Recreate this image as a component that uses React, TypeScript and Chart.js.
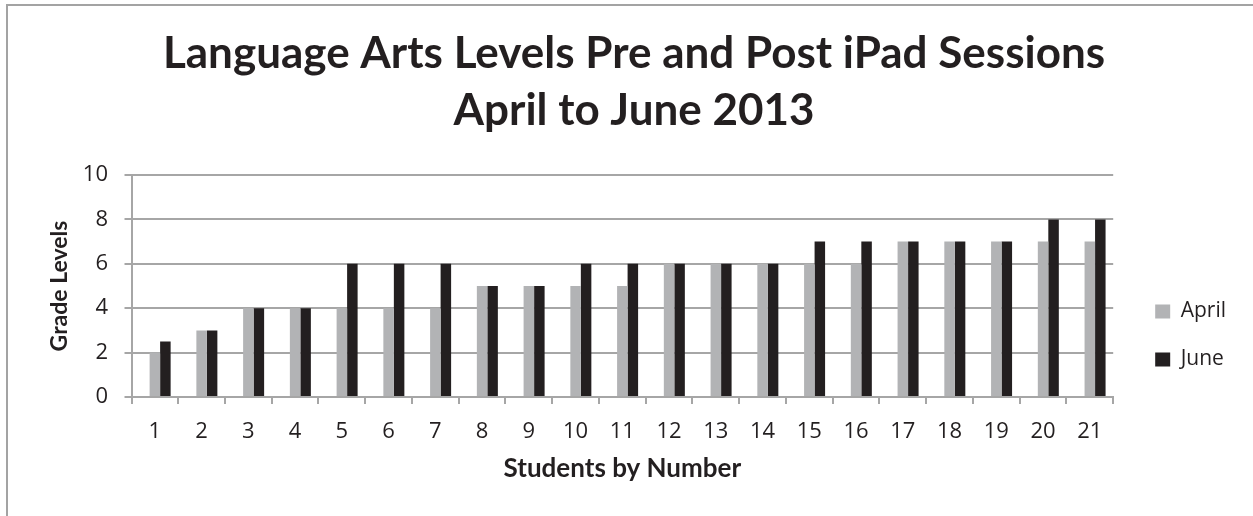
import React, { useEffect, useRef } from 'react';
import { Chart, registerables } from 'chart.js';

Chart.register(...registerables);

const titleLines = ['Language Arts Levels Pre and Post iPad Sessions', 'April to June 2013'];
const students = ['1', '2', '3', '4', '5', '6', '7', '8', '9', '10', '11', '12', '13', '14', '15', '16', '17', '18', '19', '20', '21'];
const aprilLevels = [2, 3, 4, 4, 4, 4, 4, 5, 5, 5, 5, 6, 6, 6, 6, 6, 7, 7, 7, 7, 7];
const juneLevels = [2.5, 3, 4, 4, 6, 6, 6, 5, 5, 6, 6, 6, 6, 6, 7, 7, 7, 7, 7, 8, 8];
const blankSeries: number[] = [];
const yTicks = { min: 0, max: 10, step: 2 };

const INK = '#231f20';
const APRIL_COLOR = '#b2b3b5';
const JUNE_COLOR = '#231f20';
const GRID = '#a6a6a6';
const BOLD_FAMILY = "Lato, 'Open Sans', sans-serif";
const TEXT_FAMILY = "'Open Sans', 'Noto Sans', sans-serif";

export default function App() {
  const canvasRef = useRef<HTMLCanvasElement | null>(null);

  useEffect(() => {
    const canvas = canvasRef.current;
    if (!canvas) return;
    const chart = new Chart(canvas, {
      type: 'bar',
      data: {
        labels: students,
        datasets: [
          { label: '', data: blankSeries, backgroundColor: 'rgba(0,0,0,0)' },
          { label: 'April', data: aprilLevels, backgroundColor: APRIL_COLOR, borderWidth: 0 },
          { label: 'June', data: juneLevels, backgroundColor: JUNE_COLOR, borderWidth: 0 },
        ],
      },
      options: {
        responsive: false,
        animation: false,
        datasets: { bar: { categoryPercentage: 0.674, barPercentage: 1 } },
        layout: { padding: { left: 32, right: 17, top: 0, bottom: 0 } },
        plugins: {
          tooltip: { enabled: false },
          title: {
            display: true,
            text: titleLines,
            color: INK,
            font: { family: BOLD_FAMILY, size: 44, weight: 'bold', lineHeight: 57 / 44 },
            padding: { top: 25, bottom: 36 },
          },
          legend: {
            position: 'right',
            align: 'end',
            fullSize: false,
            labels: {
              boxWidth: 15,
              boxHeight: 14,
              padding: 27,
              color: INK,
              font: { family: TEXT_FAMILY, size: 21 },
              filter: (item: any) => item.datasetIndex !== 0,
            },
          },
        },
        scales: {
          x: {
            grid: { drawOnChartArea: false, drawTicks: true, tickLength: 7, color: GRID, lineWidth: 2, offset: true },
            border: { color: GRID, width: 2 },
            ticks: { color: INK, font: { family: TEXT_FAMILY, size: 22 }, padding: 15, maxRotation: 0, autoSkip: false },
            title: {
              display: true,
              text: 'Students by Number',
              color: INK,
              font: { family: BOLD_FAMILY, size: 26, weight: 'bold' },
              padding: { top: 0, bottom: 32 },
            },
            afterFit: (s: any) => { s.height = 119; },
          },
          y: {
            min: yTicks.min,
            max: yTicks.max,
            ticks: { stepSize: yTicks.step, color: INK, font: { family: TEXT_FAMILY, size: 22 }, padding: 16.5 },
            grid: { color: GRID, lineWidth: 2, tickLength: 7 },
            border: { color: GRID, width: 2 },
            title: {
              display: true,
              text: 'Grade Levels',
              color: INK,
              font: { family: BOLD_FAMILY, size: 23, weight: 'bold' },
              padding: { top: 14, bottom: 0 },
            },
            afterFit: (s: any) => { s.width = 99.5; },
          },
          gap: {
            type: 'linear',
            position: 'right',
            display: true,
            grid: { display: false },
            border: { display: false },
            ticks: { display: false },
            afterFit: (s: any) => { s.width = 15; },
          },
        },
      } as any,
    });
    return () => chart.destroy();
  }, []);

  return (
    <div style={{ position: 'fixed', left: 0, top: 0, width: 1253, height: 516, background: '#fff', overflow: 'hidden' }}>
      <div
        style={{
          position: 'absolute',
          left: 6,
          top: 4,
          width: 1400,
          height: 700,
          borderLeft: '2px solid #a3a3a3',
          borderTop: '2px solid #a3a3a3',
        }}
      />
      <canvas ref={canvasRef} width={1253} height={516} style={{ position: 'absolute', left: 0, top: 0, display: 'block' }} />
    </div>
  );
}
